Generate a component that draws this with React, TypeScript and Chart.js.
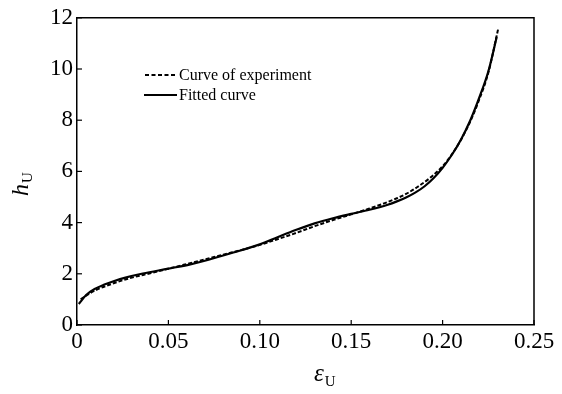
import React, { useEffect, useRef } from "react";
import { Chart, registerables } from "chart.js";

Chart.register(...registerables);

// Curve of experiment (dashed)
const expStrain = [0.002, 0.005, 0.01, 0.02, 0.03, 0.04, 0.05, 0.06, 0.07, 0.08, 0.09, 0.1, 0.11, 0.12, 0.13, 0.14, 0.15, 0.16, 0.168, 0.175, 0.18, 0.186, 0.193, 0.2, 0.205, 0.21, 0.215, 0.22, 0.225, 0.2305];
const expH = [1.0, 1.15, 1.35, 1.63, 1.85, 2.02, 2.2, 2.38, 2.56, 2.75, 2.93, 3.13, 3.36, 3.6, 3.86, 4.1, 4.32, 4.55, 4.75, 4.95, 5.12, 5.38, 5.74, 6.2, 6.66, 7.23, 7.93, 8.8, 9.85, 11.6];

// Fitted curve (solid)
const fitStrain = [0.001, 0.005, 0.01, 0.015, 0.02, 0.027, 0.036, 0.05, 0.062, 0.072, 0.085, 0.1, 0.11, 0.12, 0.13, 0.14, 0.15, 0.16, 0.17, 0.175, 0.18, 0.185, 0.19, 0.195, 0.2, 0.205, 0.21, 0.215, 0.22, 0.225, 0.2296];
const fitH = [0.82, 1.17, 1.42, 1.58, 1.71, 1.86, 2.01, 2.2, 2.37, 2.55, 2.82, 3.15, 3.44, 3.72, 3.97, 4.17, 4.34, 4.5, 4.7, 4.83, 4.98, 5.17, 5.41, 5.73, 6.14, 6.64, 7.24, 7.97, 8.87, 9.9, 11.25];

const xTicks = [0, 0.05, 0.1, 0.15, 0.2, 0.25];
const xTickLabels = ["0", "0.05", "0.10", "0.15", "0.20", "0.25"];
const yTicks = [0, 2, 4, 6, 8, 10, 12];
const legendLabels = ["Curve of experiment", "Fitted curve"];

const SERIF = '"Liberation Serif", "Times New Roman", serif';

const decorPlugin = {
  id: "decor",
  afterDraw(chart: any) {
    const { ctx, chartArea } = chart;
    const xs = chart.scales.x;
    const ys = chart.scales.y;
    ctx.save();
    ctx.strokeStyle = "#000";
    ctx.lineWidth = 1.5;
    // box
    ctx.beginPath();
    ctx.moveTo(chartArea.left, chartArea.top);
    ctx.lineTo(chartArea.right, chartArea.top);
    ctx.lineTo(chartArea.right, chartArea.bottom);
    ctx.stroke();
    // inward ticks
    ctx.lineWidth = 1.2;
    xTicks.forEach((v) => {
      const px = xs.getPixelForValue(v);
      ctx.beginPath();
      ctx.moveTo(px, chartArea.bottom);
      ctx.lineTo(px, chartArea.bottom - 5);
      ctx.stroke();
    });
    yTicks.forEach((v) => {
      const py = ys.getPixelForValue(v);
      ctx.beginPath();
      ctx.moveTo(chartArea.left, py);
      ctx.lineTo(chartArea.left + 5, py);
      ctx.stroke();
    });
    // legend
    ctx.fillStyle = "#000";
    ctx.font = `16px ${SERIF}`;
    ctx.textBaseline = "middle";
    ctx.textAlign = "left";
    ctx.lineWidth = 1.8;
    ctx.setLineDash([4, 2.5]);
    ctx.beginPath();
    ctx.moveTo(145, 75);
    ctx.lineTo(177, 75);
    ctx.stroke();
    ctx.setLineDash([]);
    ctx.lineWidth = 2.2;
    ctx.beginPath();
    ctx.moveTo(144, 95);
    ctx.lineTo(177, 95);
    ctx.stroke();
    ctx.fillText(legendLabels[0], 179, 76);
    ctx.fillText(legendLabels[1], 179, 96);
    // x title: ε_U
    ctx.textBaseline = "alphabetic";
    ctx.font = `italic 25px ${SERIF}`;
    ctx.fillText("ε", 314, 381);
    const ew = ctx.measureText("ε").width;
    ctx.font = `15px ${SERIF}`;
    ctx.fillText("U", 314 + ew + 1, 386);
    // y title: h_U rotated
    ctx.save();
    ctx.translate(28, 196);
    ctx.rotate(-Math.PI / 2);
    ctx.font = `italic 24px ${SERIF}`;
    ctx.fillText("h", 0, 0);
    const hw = ctx.measureText("h").width;
    ctx.font = `15px ${SERIF}`;
    ctx.fillText("U", hw + 1, 4);
    ctx.restore();
    ctx.restore();
  },
};

export default function App() {
  const ref = useRef<HTMLCanvasElement>(null);
  useEffect(() => {
    if (!ref.current) return;
    const chart = new Chart(ref.current, {
      type: "scatter",
      data: {
        datasets: [
          {
            label: legendLabels[0],
            data: expStrain.map((x, i) => ({ x, y: expH[i] })),
            showLine: true,
            borderColor: "#000",
            borderWidth: 2,
            borderDash: [4, 2],
            pointRadius: 0,
            cubicInterpolationMode: "monotone",
          },
          {
            label: legendLabels[1],
            data: fitStrain.map((x, i) => ({ x, y: fitH[i] })),
            showLine: true,
            borderColor: "#000",
            borderWidth: 2.2,
            pointRadius: 0,
            cubicInterpolationMode: "monotone",
          },
        ],
      },
      options: {
        responsive: false,
        animation: false,
        layout: { padding: { top: 17, right: 28, left: 0, bottom: 0 } },
        plugins: { legend: { display: false }, tooltip: { enabled: false } },
        scales: {
          x: {
            type: "linear",
            min: 0,
            max: 0.25,
            afterFit: (s: any) => { s.height = 69; },
            afterBuildTicks: (s: any) => { s.ticks = xTicks.map((v) => ({ value: v })); },
            grid: { display: false, drawTicks: false },
            border: { display: true, color: "#000", width: 1.5 },
            ticks: {
              padding: 3,
              color: "#000",
              font: { family: SERIF, size: 23 },
              maxRotation: 0,
              callback: (v: any) => {
                const i = xTicks.findIndex((t) => Math.abs(t - v) < 1e-9);
                return i >= 0 ? xTickLabels[i] : "";
              },
            },
          },
          y: {
            min: 0,
            max: 12,
            afterFit: (s: any) => { s.width = 77; },
            afterBuildTicks: (s: any) => { s.ticks = yTicks.map((v) => ({ value: v })); },
            grid: { display: false, drawTicks: false },
            border: { display: true, color: "#000", width: 1.5 },
            ticks: {
              padding: 4,
              color: "#000",
              font: { family: SERIF, size: 23 },
              callback: (v: any) => String(v),
            },
          },
        },
      },
      plugins: [decorPlugin],
    } as any);
    return () => chart.destroy();
  }, []);
  return (
    <div style={{ position: "absolute", left: 0, top: 0, width: 562, height: 394, background: "#fff" }}>
      <canvas ref={ref} width={562} height={394} style={{ display: "block" }} />
    </div>
  );
}
